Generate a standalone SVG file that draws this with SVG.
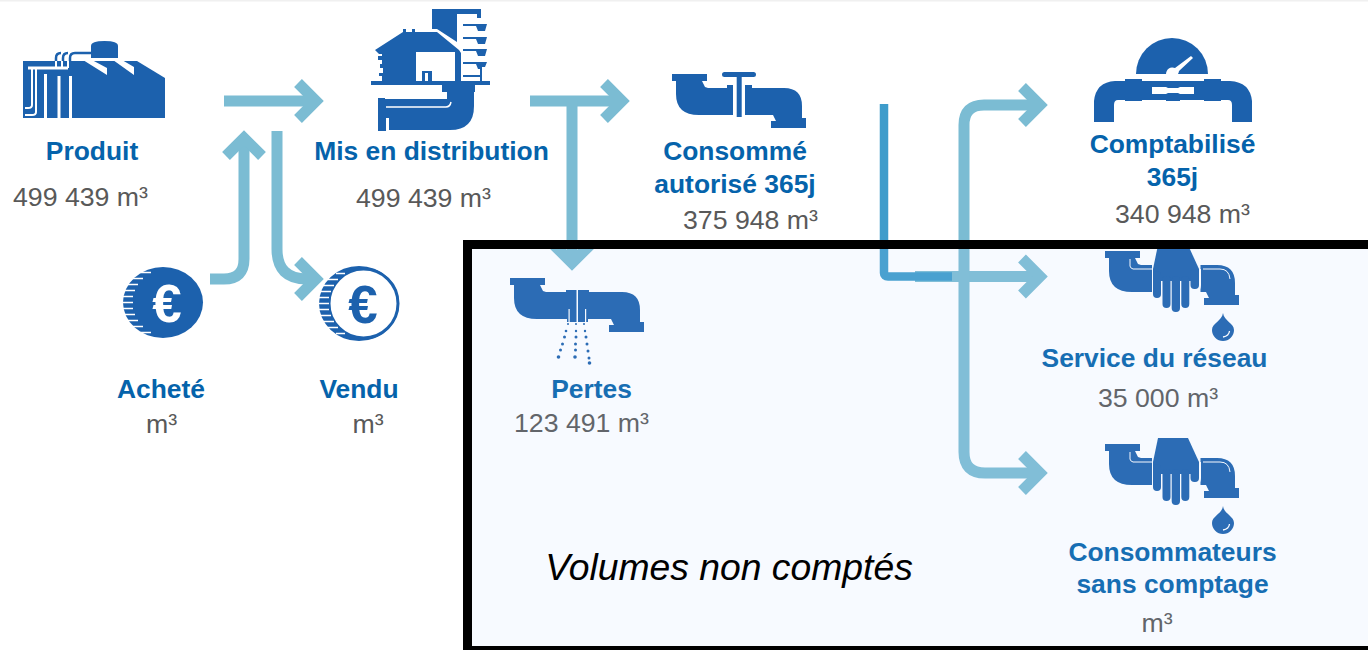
<svg xmlns="http://www.w3.org/2000/svg" width="1368" height="650" viewBox="0 0 1368 650">
<style>
text{font-family:"Liberation Sans",Arial,sans-serif;text-anchor:middle}
.t{font-size:26.4px;font-weight:700;fill:#0563ab}
.v{font-size:26.7px;fill:#595959}
.i{fill:#1c61ad}
.w{fill:#fff}
.ws{fill:none;stroke:#fff}
.bs{fill:none;stroke:#1c61ad}
.a{fill:none;stroke:#7bbcd3;stroke-width:11;marker-end:url(#chev)}
.e{font-size:53px;font-weight:700}
</style>
<defs>
<marker id="chev" markerUnits="userSpaceOnUse" viewBox="-30 -30 45 60" refX="0" refY="0" markerWidth="45" markerHeight="60" orient="auto">
<path d="M-18 -18L0 0L-18 18" fill="none" stroke="#7bbcd3" stroke-width="11"/>
</marker>
<path id="tap" class="i" d="M0 0H35V7H30L33 13L36 14H112Q130 14 130 32V44H134V54H99V47H104L101 41H27Q4 41 4 20V7H0Z"/>
<g id="handtap">
<use href="#tap"/>
<path class="w" d="M47 12H95.500V43H47Z"/>
<path class="ws" stroke-width="1" d="M25 8V15Q25 17 28 18H47M98 18H115Q124 18 125 28"/>
<path class="i" d="M53 -6H83L94 18V30H48V18Z"/>
<rect class="i" x="48" y="20" width="8" height="27" rx="4"/>
<rect class="i" x="57.500" y="25" width="8" height="32" rx="4"/>
<rect class="i" x="66.700" y="25" width="8.300" height="36" rx="4"/>
<rect class="i" x="76.300" y="25" width="8" height="32" rx="4"/>
<rect class="i" x="85.500" y="18" width="8.500" height="20" rx="4"/>
<path class="ws" stroke-width="1" d="M95.500 18V34Q95.500 40.500 90 40.500H86"/>
<path class="i" d="M118 62C119 70 129 72 129 79A11 11 0 0 1 107 79C107 72 117 70 118 62Z"/>
<path class="ws" stroke-width="1.300" d="M124.500 80Q124 85 118 86"/>
</g>
</defs>
<rect width="1368" height="1.500" fill="#f0f0f0"/>
<g id="connectors">
<path class="a" d="M224 101H316"/>
<path class="a" d="M210 279H224Q244 279 244 259V138"/>
<path class="a" d="M277 131V249Q277 279 307 279H316"/>
<path class="a" d="M530 101H622"/>
<path class="a" d="M572 101V263"/>
<path class="a" d="M915 276.500H1040"/>
<path d="M884 104V273Q884 276.500 888 276.500H952" fill="none" stroke="#3e9ccb" stroke-width="8.500"/>
<path class="a" d="M964 300V125Q964 105 984 105H1040"/>
<path class="a" d="M964 300V452Q964 473 985 473H1040"/>
</g>
<g id="produit">
<path class="i" d="M91 58V46Q91 41 104.500 41Q118 41 118 46V58Z"/>
<path class="i" d="M23 61H137L165 78V118H23Z"/>
<path class="w" d="M83 60H92L107 68V75ZM113 60H122L134 67V75Z"/>
<path class="ws" stroke-width="3" d="M28 68H68M45.500 74V118M59 76V118M70.500 76V118"/>
<path class="ws" stroke-width="2" d="M32 68V105Q32 108 28 108H25M36 68V112Q36 115 32 115H25M56 61V68M62 61V68M68 61V68"/>
<path class="bs" stroke-width="2.500" d="M56 61V58Q56 53 61 53M63 61V58Q63 53 68 53M70 61V58Q70 53 75 53H91"/>
</g>
<g id="mis-en-distribution">
<path class="i" d="M432 9H481V18H477V14H457V42L437 29H432Z"/>
<path class="i" d="M403 32V29H406V32H412V29H415V32H437L459 50L461 53V81H382V76H379V73H383V68H380V64H382V60H378V56H382V54H379L375 50Z"/>
<path class="w" d="M416 52H455V81H416Z"/>
<path class="i" d="M422 71H432V81H422Z"/>
<path class="w" d="M425 73H428V81H425Z"/>
<path class="i" d="M463 24H487L485 31H478L476 26H463ZM463 37H487L485 44H478L476 39H463ZM463 49H487L485 56H478L476 51H463ZM463 62H487L485 67H482V81H480V69H478L476 64H463ZM463 75H480V77H463Z"/>
<path class="i" d="M371 81H490V85H371Z"/>
<path class="i" d="M442 85H475V92H474V106Q474 130 450 130H389V118H386V131H378V98H385V99H447V92H442Z"/>
<path class="ws" stroke-width="1.500" d="M386 107H446Q450 107 451 102"/>
</g>
<g id="consomme-autorise">
<use href="#tap" x="672" y="74"/>
<path class="w" d="M733 84H745V120H733Z"/>
<path class="i" d="M722 74.500A2.500 2.500 0 0 1 724.500 72H753.500A2.500 2.500 0 0 1 753.500 77H741.700V117H736.700V77H724.500A2.500 2.500 0 0 1 722 74.500Z"/>
<path class="i" d="M727 85H733V115H727ZM745 85H752V115H745Z"/>
</g>
<g id="comptabilise">
<path class="i" d="M1136 74A36 36 0 0 1 1208 74Z"/>
<path class="w" d="M1191 56L1193 58L1179 71A7 7 0 0 1 1178 74H1166A6.500 6.500 0 0 1 1175 68Z"/>
<path class="i" d="M1094 122V101Q1096 82 1115 81H1125V79H1142V81H1204V79H1221V81H1230Q1250 82 1252 101V122H1232V105Q1232 100 1228 100H1221V101H1204V100H1180V101H1166V100H1142V101H1125V100H1118Q1114 100 1114 105V122Z"/>
<path class="w" d="M1152 87H1166L1168 88H1178L1180 87H1194V94H1180L1178 93H1168L1166 94H1152Z"/>
</g>
<g id="achete">
<ellipse class="i" cx="163" cy="302.500" rx="40" ry="35.500"/>
<path class="ws" stroke-width="1.500" d="M122 302.500H133M122 296.500H133M122 308.500H133M124 290.500H135M124 314.500H135M127 284.500H138M127 320.500H138M132 278.500H143M132 326.500H143M140 272.500H151M140 332.500H151"/>
<text class="e w" x="167" y="322">€</text>
</g>
<g id="vendu">
<ellipse class="i" cx="359" cy="303.500" rx="40" ry="37.500"/>
<circle cx="363.500" cy="303.500" r="34.500" fill="#fff" stroke="#1c61ad" stroke-width="3"/>
<path class="ws" stroke-width="1.500" d="M318 303.500H329M318 297.500H329M318 309.500H329M320 291.500H331M320 315.500H331M323 285.500H334M323 321.500H334M328 279.500H338M328 327.500H338M336 273.500H345M336 333.500H345"/>
<text class="e" x="363" y="323" fill="#1c61ad">€</text>
</g>
<g id="pertes">
<use href="#tap" x="510" y="278"/>
<path class="i" d="M566 290H589V319H588V322H567V319H566Z"/>
<path class="w" d="M576.500 288H578V323H576.500ZM568.500 309H569.700V322H568.500ZM585 309H586.200V322H585Z"/>
<g class="i"><circle cx="568" cy="324" r="1"/><circle cx="566" cy="331" r="1.300"/><circle cx="564.500" cy="337" r="1.500"/><circle cx="562.500" cy="344" r="1.500"/><circle cx="560.500" cy="350" r="1.500"/><circle cx="558.500" cy="357" r="1.800"/>
<circle cx="576" cy="324" r="1"/><circle cx="576" cy="331" r="1.200"/><circle cx="576" cy="337" r="1.500"/><circle cx="575.500" cy="344" r="1.500"/><circle cx="575.500" cy="350" r="1.500"/><circle cx="575" cy="357" r="1.800"/>
<circle cx="584" cy="324" r="1"/><circle cx="585" cy="331" r="1.200"/><circle cx="586" cy="337" r="1.500"/><circle cx="587" cy="344" r="1.500"/><circle cx="588" cy="351" r="1.500"/><circle cx="589" cy="358" r="1.500"/><circle cx="589.500" cy="363" r="1.800"/></g>
</g>
<g id="service-du-reseau"><use href="#handtap" x="1105" y="251"/></g>
<g id="sans-comptage"><use href="#handtap" x="1105" y="444"/></g>
<g id="labels">
<text class="t" x="92" y="160">Produit</text>
<text class="v" x="80.500" y="206">499 439 m³</text>
<text class="t" x="431.500" y="160">Mis en distribution</text>
<text class="v" x="423.500" y="207">499 439 m³</text>
<text class="t" x="735" y="160">Consommé</text>
<text class="t" x="735" y="193">autorisé 365j</text>
<text class="v" x="750.500" y="229">375 948 m³</text>
<text class="t" x="1172.500" y="153">Comptabilisé</text>
<text class="t" x="1172.500" y="186">365j</text>
<text class="v" x="1182.500" y="223">340 948 m³</text>
<text class="t" x="161" y="398">Acheté</text>
<text class="v" x="161.500" y="433">m³</text>
<text class="t" x="359" y="398">Vendu</text>
<text class="v" x="368" y="433">m³</text>
<text class="t" x="591.500" y="398">Pertes</text>
<text class="v" x="581.500" y="432">123 491 m³</text>
<text class="t" x="1154.500" y="367">Service du réseau</text>
<text class="v" x="1158" y="407">35 000 m³</text>
<text class="t" x="1172.500" y="561">Consommateurs</text>
<text class="t" x="1172.500" y="593">sans comptage</text>
<text class="v" x="1157" y="632">m³</text>
</g>
<g id="volumes-non-comptes">
<rect x="467.500" y="244.500" width="910" height="406" fill="#b3cfff" fill-opacity=".105" stroke="#000" stroke-width="9"/>
<text x="729" y="580" font-size="37.300" font-style="italic" fill="#000">Volumes non comptés</text>
</g>
</svg>
